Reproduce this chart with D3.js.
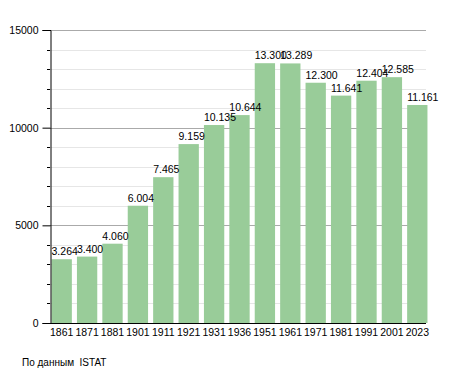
<!DOCTYPE html>
<html>
<head>
<meta charset="utf-8">
<script src="https://cdn.jsdelivr.net/npm/d3@7"></script>
<style>
  body { margin: 0; background: #fff; }
  svg { display: block; font-family: "Liberation Sans", Arial, sans-serif; }
</style>
</head>
<body>
<svg id="chart"></svg>
<script>
// Chart data
const years = ["1861", "1871", "1881", "1901", "1911", "1921", "1931", "1936",
               "1951", "1961", "1971", "1981", "1991", "2001", "2023"];
const population = [3264, 3400, 4060, 6004, 7465, 9159, 10135, 10644,
                    13300, 13289, 12300, 11641, 12404, 12585, 11161];
const majorTicks = [0, 5000, 10000, 15000];
const minorTicks = [1000, 2000, 3000, 4000, 6000, 7000, 8000, 9000,
                    11000, 12000, 13000, 14000];

const WIDTH = 455;
const HEIGHT = 373;
const BAR_COLOR = "#99cc99";
const FONT_SIZE = 10.5;

const svg = d3.select("#chart")
    .attr("width", WIDTH)
    .attr("height", HEIGHT);

const x = d3.scaleBand()
    .domain(years)
    .range([49, 430])
    .paddingInner(0.2)
    .paddingOuter(0.1);

const y = d3.scaleLinear()
    .domain([0, 15000])
    .range([323, 30]);

const plotLeft = 50;
const plotRight = 426;

// minor grid lines
svg.append("g")
    .selectAll("line")
    .data(minorTicks)
    .join("line")
    .attr("x1", plotLeft).attr("x2", plotRight)
    .attr("y1", d => Math.round(y(d)) + 0.5)
    .attr("y2", d => Math.round(y(d)) + 0.5)
    .attr("stroke", "#e6e6e6");

// major grid lines
svg.append("g")
    .selectAll("line")
    .data(majorTicks.filter(d => d > 0))
    .join("line")
    .attr("x1", plotLeft).attr("x2", plotRight)
    .attr("y1", d => Math.round(y(d)) + 0.5)
    .attr("y2", d => Math.round(y(d)) + 0.5)
    .attr("stroke", "#aaaaaa");

// bars
svg.append("g")
    .selectAll("rect")
    .data(years)
    .join("rect")
    .attr("x", d => x(d))
    .attr("width", x.bandwidth())
    .attr("y", (d, i) => y(population[i]))
    .attr("height", (d, i) => y(0) - y(population[i]))
    .attr("fill", BAR_COLOR);

// value labels
const fmt = v => d3.format(",")(v).replace(/,/g, ".");
svg.append("g")
    .selectAll("text")
    .data(years)
    .join("text")
    .attr("x", d => x(d))
    .attr("y", (d, i) => y(population[i]) - 4)
    .attr("font-size", FONT_SIZE)
    .attr("fill", "#000")
    .text((d, i) => fmt(population[i]));

// y axis with major and minor ticks
svg.append("g")
    .attr("transform", `translate(${plotLeft + 0.5},0)`)
    .call(d3.axisLeft(y).tickValues(majorTicks).tickSize(8).tickPadding(4).tickFormat(d3.format("d")))
    .call(g => g.select(".domain").attr("stroke", "#000"))
    .call(g => g.selectAll("text").attr("font-size", FONT_SIZE).attr("font-family", null).attr("fill", "#000"));

svg.append("g")
    .selectAll("line")
    .data(minorTicks)
    .join("line")
    .attr("x1", plotLeft - 3).attr("x2", plotLeft)
    .attr("y1", d => Math.round(y(d)) + 0.5)
    .attr("y2", d => Math.round(y(d)) + 0.5)
    .attr("stroke", "#000");

// x axis
svg.append("g")
    .attr("transform", `translate(0,${y(0) + 0.5})`)
    .call(d3.axisBottom(x).tickSize(0).tickPadding(5))
    .call(g => g.select(".domain").attr("d", `M${plotLeft},0H${plotRight}`).attr("stroke", "#000"))
    .call(g => g.selectAll("text").attr("font-size", FONT_SIZE).attr("font-family", null).attr("fill", "#000"));

// source note
svg.append("text")
    .attr("x", 22)
    .attr("y", 366)
    .attr("font-size", 10)
    .attr("fill", "#000")
    .attr("xml:space", "preserve")
    .text("По данным  ISTAT");
</script>
</body>
</html>
